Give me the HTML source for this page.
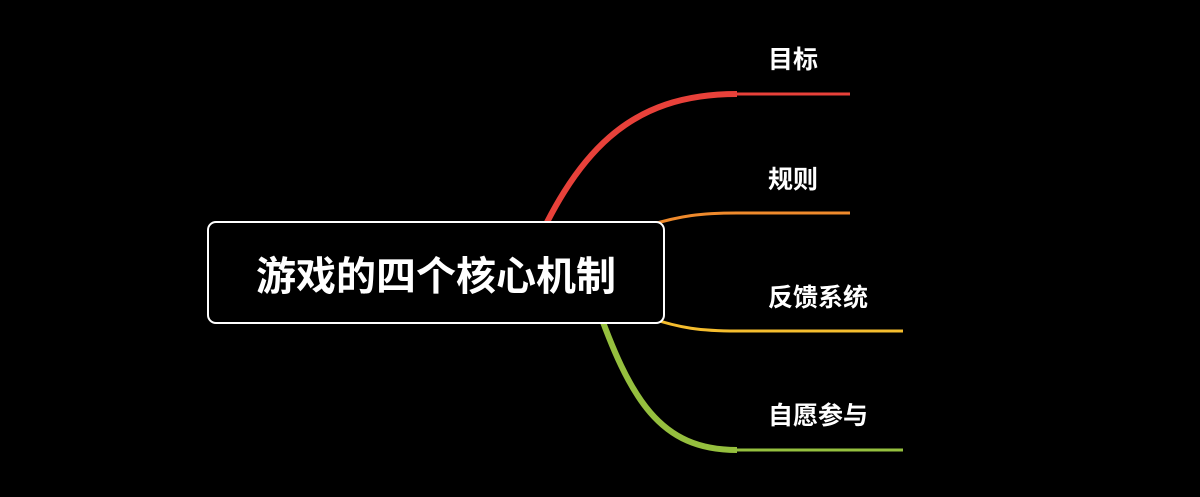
<!DOCTYPE html>
<html><head><meta charset="utf-8"><style>
html,body{margin:0;padding:0;background:#000;}
body{width:1200px;height:497px;overflow:hidden;position:relative;font-family:"Liberation Sans","Noto Sans CJK SC",sans-serif;}
.lbl{position:absolute;color:#fff;font-weight:bold;font-size:25px;line-height:1;}
.box{position:absolute;left:207px;top:221px;width:454px;height:99px;border:2px solid #fff;border-radius:9px;background:#000;color:#fff;font-weight:bold;font-size:40px;display:flex;align-items:center;justify-content:center;}
</style></head><body>
<svg width="1200" height="497" style="position:absolute;left:0;top:0">
<path d="M525 270 C 575 150, 630 94, 737 94" stroke="#e8413a" stroke-width="6" fill="none"/>
<path d="M737 94 L850 94" stroke="#e8413a" stroke-width="3" fill="none"/>
<path d="M650 225 C 680 216, 700 213, 737 213 L850 213" stroke="#ef8a2c" stroke-width="3" fill="none"/>
<path d="M650 318 C 680 328, 700 331, 737 331 L903 331" stroke="#f5bd2e" stroke-width="3" fill="none"/>
<path d="M595 300 C 630 400, 660 450, 737 450" stroke="#95bf3e" stroke-width="6" fill="none"/>
<path d="M737 450 L903 450" stroke="#95bf3e" stroke-width="3" fill="none"/>
</svg>
<div class="box">游戏的四个核心机制</div>
<div class="lbl" style="left:768px;top:48px">目标</div>
<div class="lbl" style="left:768px;top:168px">规则</div>
<div class="lbl" style="left:768px;top:286px">反馈系统</div>
<div class="lbl" style="left:768px;top:404px">自愿参与</div>
</body></html>
